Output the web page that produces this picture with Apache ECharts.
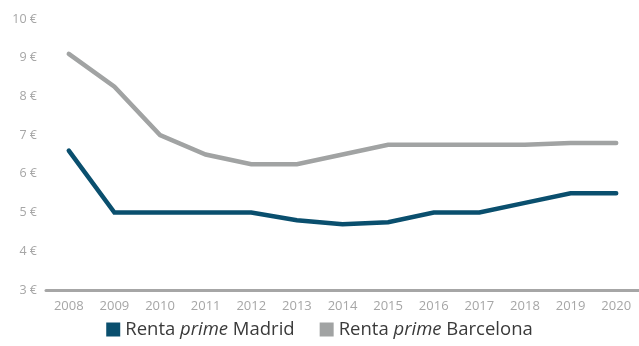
<!DOCTYPE html>
<html>
<head>
<meta charset="utf-8">
<script src="https://cdn.jsdelivr.net/npm/echarts@6/dist/echarts.min.js"></script>
<style>
html,body{margin:0;padding:0;background:#fff;}
#chart{width:639px;height:346px;}
</style>
</head>
<body>
<div id="chart"></div>
<script>
const years = ['2008','2009','2010','2011','2012','2013','2014','2015','2016','2017','2018','2019','2020'];
const madrid = [6.6, 5, 5, 5, 5, 4.8, 4.7, 4.75, 5, 5, 5.25, 5.5, 5.5];
const barcelona = [9.1, 8.25, 7, 6.5, 6.25, 6.25, 6.5, 6.75, 6.75, 6.75, 6.75, 6.8, 6.8];

const font = '"Open Sans", "Noto Sans", sans-serif';
const chart = echarts.init(document.getElementById('chart'));
chart.setOption({
  animation: false,
  textStyle: { fontFamily: font },
  grid: { left: 46, right: -2, top: 19, bottom: 56 },
  legend: {
    bottom: 2,
    left: 'center',
    itemWidth: 14,
    itemHeight: 14,
    itemGap: 25,
    icon: 'rect',
    textStyle: {
      fontSize: 18.5,
      color: '#3a3a3a',
      fontFamily: font,
      rich: {
        it: { fontStyle: 'italic', fontSize: 18.5, color: '#3a3a3a', fontFamily: font }
      }
    },
    formatter: function (name) {
      const parts = name.split('prime');
      return parts[0] + '{it|prime}' + parts[1];
    }
  },
  xAxis: {
    type: 'category',
    data: years,
    boundaryGap: true,
    axisLine: { lineStyle: { color: '#a6a6a6', width: 3 } },
    axisTick: { show: false },
    axisLabel: { color: '#a6a6a6', fontSize: 13, margin: 10 }
  },
  yAxis: {
    type: 'value',
    min: 3,
    max: 10,
    interval: 1,
    splitLine: { show: false },
    axisLine: { show: false },
    axisTick: { show: false },
    axisLabel: { color: '#a6a6a6', fontSize: 12.5, margin: 9, formatter: '{value} €' }
  },
  series: [
    {
      name: 'Renta prime Madrid',
      type: 'line',
      data: madrid,
      symbol: 'none',
      color: '#0a4f6e',
      lineStyle: { width: 4.5, cap: 'round', join: 'miter' }
    },
    {
      name: 'Renta prime Barcelona',
      type: 'line',
      data: barcelona,
      symbol: 'none',
      color: '#a1a3a3',
      lineStyle: { width: 4.5, cap: 'round', join: 'miter' }
    }
  ]
});
</script>
</body>
</html>
